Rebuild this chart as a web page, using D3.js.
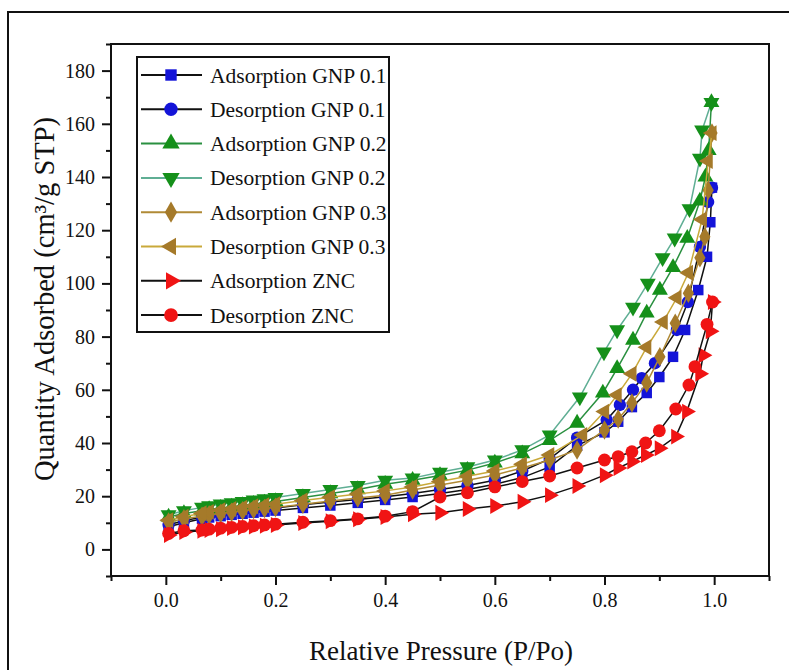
<!DOCTYPE html>
<html>
<head>
<meta charset="utf-8">
<script src="https://cdn.jsdelivr.net/npm/d3@7"></script>
<style>
  body { margin: 0; background: #fff; }
  svg text { font-family: "Liberation Serif", "Times New Roman", serif; fill: #111; }
</style>
</head>
<body>
<div id="chart"></div>
<script>
(function() {

// Relative pressure (P/Po) and quantity adsorbed (cm3/g STP)
var adsP01 = [0.005,0.033,0.066,0.079,0.1,0.12,0.14,0.16,0.18,0.2,0.25,0.3,0.35,0.4,0.45,0.5,0.55,0.6,0.65,0.7,0.75,0.8,0.825,0.85,0.877,0.9,0.925,0.947,0.971,0.987,0.993,0.996];
var adsV01 = [8.5,10,11.5,12,12.5,13,13.4,13.8,14.2,14.6,15.6,16.5,17.5,18.6,19.7,21,22.5,24.5,27,31,39,44,48,53.5,58.8,64.8,72.4,82.5,97.5,110,123,136];
var desP01 = [0.996,0.989,0.974,0.952,0.932,0.892,0.868,0.852,0.828,0.804,0.75,0.7,0.65,0.6,0.55,0.5,0.45,0.4,0.35,0.3,0.25,0.2,0.18,0.16,0.14,0.12,0.1,0.079,0.066,0.033,0.005];
var desV01 = [136,130.6,113.7,93,82.5,70,64.4,60,54.3,48.7,42,34,29.5,26,24,22.5,21,19.8,18.8,17.8,16.8,15.6,15.2,14.8,14.3,13.8,13.3,12.7,12.2,10.8,9.3];

var adsP02 = [0.005,0.033,0.066,0.079,0.1,0.12,0.14,0.16,0.18,0.2,0.25,0.3,0.35,0.4,0.45,0.5,0.55,0.6,0.65,0.7,0.75,0.797,0.823,0.852,0.877,0.901,0.925,0.951,0.974,0.984,0.99,0.995];
var adsV02 = [12.2,13.5,14.5,15,15.5,16,16.5,17,17.5,18,19.5,21,22.5,24.5,26,27.8,29.8,32.5,36,41,47.5,58.8,68,78.7,88.9,97.5,106,117,131,140,150,168];
var desP02 = [0.995,0.978,0.974,0.955,0.928,0.906,0.879,0.852,0.823,0.799,0.755,0.7,0.65,0.6,0.55,0.5,0.45,0.4,0.35,0.3,0.25,0.2,0.18,0.16,0.14,0.12,0.1,0.079,0.066,0.033,0.005];
var desV02 = [168,157.6,147,128,117,109.6,100,91,82.5,74.2,57.3,43,37.4,33.6,31,29,26.8,26,24,22.5,21,19.5,19,18.5,18,17.5,17,16.4,15.8,14.5,13];

var adsP03 = [0.005,0.033,0.066,0.079,0.1,0.12,0.14,0.16,0.18,0.2,0.25,0.3,0.35,0.4,0.45,0.5,0.55,0.6,0.65,0.7,0.75,0.8,0.825,0.85,0.877,0.901,0.929,0.953,0.974,0.983,0.989,0.996];
var adsV03 = [10.3,11.5,12.5,13,13.5,14,14.5,15,15.4,15.8,17,18.2,19.3,20.4,22.3,24.2,26,28,30.6,33.6,37.4,44.9,49,55,62.6,72.4,85,96.3,109.6,117.5,135,156.5];
var desP03 = [0.996,0.989,0.978,0.953,0.932,0.907,0.877,0.85,0.823,0.8,0.76,0.7,0.65,0.6,0.55,0.5,0.45,0.4,0.35,0.3,0.25,0.2,0.18,0.16,0.14,0.12,0.1,0.079,0.066,0.033,0.005];
var desV03 = [156.5,146,124,104,94.6,85.5,76,66,58,51.8,43,35.5,32,29.5,27.5,25.5,23.5,22,20.8,19.6,18.4,17,16.6,16.2,15.7,15.2,14.7,14.1,13.6,12.3,11];

var adsPZ = [0.005,0.033,0.066,0.079,0.1,0.12,0.14,0.16,0.18,0.2,0.25,0.3,0.35,0.4,0.45,0.5,0.55,0.6,0.65,0.7,0.75,0.8,0.825,0.85,0.875,0.9,0.93,0.95,0.974,0.98,0.993,0.997];
var adsVZ = [5.4,6.5,7,7.3,7.6,8,8.3,8.6,8.9,9.2,9.9,10.6,11.3,12.2,13.2,13.8,15.2,16.3,17.9,20.4,23.8,27.9,30.6,33,35.5,38,42.4,51.8,66,73,82,93];
var desPZ = [0.997,0.987,0.965,0.954,0.93,0.9,0.875,0.85,0.825,0.8,0.75,0.7,0.65,0.6,0.55,0.5,0.45,0.4,0.35,0.3,0.25,0.2,0.18,0.16,0.14,0.12,0.1,0.079,0.066,0.033,0.005];
var desVZ = [93,84.6,68.7,61.8,52.8,44.6,40,36.7,34.9,33.6,30.6,27.6,25.5,23.5,21.3,19.7,14.2,12.5,11.5,10.8,10.2,9.5,9.2,8.9,8.6,8.3,8,7.6,7.3,7,6];

var seriesNames = ['Adsorption GNP 0.1','Desorption GNP 0.1','Adsorption GNP 0.2','Desorption GNP 0.2',
                   'Adsorption GNP 0.3','Desorption GNP 0.3','Adsorption ZNC','Desorption ZNC'];
var xTicks = [0, 0.2, 0.4, 0.6, 0.8, 1.0];
var yTicks = [0, 20, 40, 60, 80, 100, 120, 140, 160, 180];

// styles per series (line colour, marker colour, symbol)
var styles = [
  {line: '#111', fill: '#1414d8', sym: d3.symbolSquare, size: 110, rot: 0},
  {line: '#111', fill: '#1414d8', sym: d3.symbolCircle, size: 120, rot: 0},
  {line: '#2a9040', fill: '#15901a', sym: d3.symbolTriangle, size: 110, rot: 0},
  {line: '#5fae94', fill: '#15901a', sym: d3.symbolTriangle, size: 110, rot: 180},
  {line: '#b08a36', fill: '#a57a2a', sym: d3.symbolDiamond, size: 110, rot: 0},
  {line: '#c9a93a', fill: '#a57a2a', sym: d3.symbolTriangle, size: 110, rot: -90},
  {line: '#111', fill: '#f01414', sym: d3.symbolTriangle, size: 110, rot: 90},
  {line: '#111', fill: '#f01414', sym: d3.symbolCircle, size: 130, rot: 0}
];

var allP = [adsP01, desP01, adsP02, desP02, adsP03, desP03, adsPZ, desPZ];
var allV = [adsV01, desV01, adsV02, desV02, adsV03, desV03, adsVZ, desVZ];

var W = 789, H = 670;
var margin = {top: 44, right: 20, bottom: 94, left: 111},
    width = 769 - margin.left,
    height = 576 - margin.top;

var svg = d3.select('#chart').append('svg')
    .attr('width', W)
    .attr('height', H);

// outer frame
svg.append('rect')
    .attr('x', 8).attr('y', 12)
    .attr('width', 800).attr('height', 700)
    .attr('fill', 'none').attr('stroke', '#111').attr('stroke-width', 2);

var g = svg.append('g')
    .attr('transform', 'translate(' + margin.left + ',' + margin.top + ')');

var x = d3.scaleLinear().domain([-0.1, 1.1]).range([0, width]);
var y = d3.scaleLinear().domain([-10, 190]).range([height, 0]);

// minor ticks
g.append('g')
    .attr('class', 'axis')
    .attr('transform', 'translate(0,' + height + ')')
    .call(d3.axisBottom(x).tickValues(d3.range(-0.1, 1.15, 0.2)).tickSize(5).tickFormat(''));
g.append('g')
    .attr('class', 'axis')
    .call(d3.axisLeft(y).tickValues(d3.range(-10, 200, 20)).tickSize(5).tickFormat(''));

// major ticks
g.append('g')
    .attr('class', 'axis xmajor')
    .attr('transform', 'translate(0,' + height + ')')
    .call(d3.axisBottom(x).tickValues(xTicks).tickSize(9).tickPadding(8).tickFormat(d3.format('.1f')));
g.append('g')
    .attr('class', 'axis ymajor')
    .call(d3.axisLeft(y).tickValues(yTicks).tickSize(9).tickPadding(7).tickFormat(d3.format('d')));

g.selectAll('.axis path, .axis line').attr('stroke', '#111').attr('stroke-width', 2);
g.selectAll('.axis text')
    .style('font-family', '"Liberation Serif", serif')
    .style('font-size', '20px')
    .attr('fill', '#111');
g.selectAll('.axis .domain').remove();

// plot box
g.append('rect')
    .attr('width', width).attr('height', height)
    .attr('fill', 'none').attr('stroke', '#111').attr('stroke-width', 2);

var line = d3.line()
    .x(function(d) { return x(d[0]); })
    .y(function(d) { return y(d[1]); });

seriesNames.forEach(function(name, i) {
  var data = allP[i].map(function(p, j) { return [p, allV[i][j]]; });
  var st = styles[i];
  g.append('path')
      .datum(data)
      .attr('fill', 'none')
      .attr('stroke', st.line)
      .attr('stroke-width', 1.5)
      .attr('d', line);
  g.selectAll('.m' + i)
      .data(data)
      .enter().append('path')
      .attr('class', 'm' + i)
      .attr('d', d3.symbol().type(st.sym).size(st.size))
      .attr('transform', function(d) {
        return 'translate(' + x(d[0]) + ',' + y(d[1]) + ') rotate(' + st.rot + ')';
      })
      .attr('fill', st.fill);
});

// legend
var legend = svg.append('g').attr('transform', 'translate(137,57)');
legend.append('rect')
    .attr('width', 252).attr('height', 275)
    .attr('fill', '#fff').attr('stroke', '#111').attr('stroke-width', 2);

seriesNames.forEach(function(name, i) {
  var st = styles[i];
  var row = legend.append('g').attr('transform', 'translate(0,' + (18 + i * 34.3) + ')');
  row.append('line')
      .attr('x1', 4).attr('x2', 65)
      .attr('stroke', st.line).attr('stroke-width', 2);
  row.append('path')
      .attr('d', d3.symbol().type(st.sym).size(st.size + 20))
      .attr('transform', 'translate(34,0) rotate(' + st.rot + ')')
      .attr('fill', st.fill);
  row.append('text')
      .attr('x', 73).attr('dy', '0.35em')
      .style('font-size', '21.5px')
      .text(name);
});

// axis titles
svg.append('text')
    .attr('x', 441)
    .attr('y', 660)
    .style('text-anchor', 'middle')
    .style('font-size', '27px')
    .text('Relative Pressure (P/Po)');

svg.append('text')
    .attr('transform', 'rotate(-90)')
    .attr('x', -299)
    .attr('y', 54)
    .style('text-anchor', 'middle')
    .style('font-size', '28.5px')
    .text('Quantity Adsorbed (cm\u00b3/g STP)');

})();
</script>
</body>
</html>
